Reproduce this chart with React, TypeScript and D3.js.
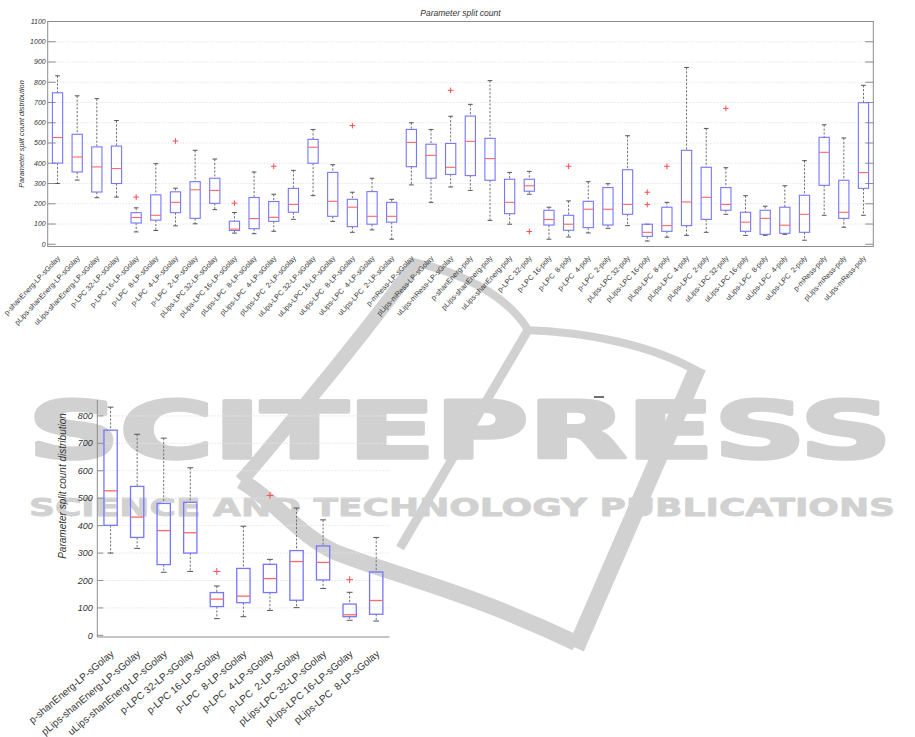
import React from 'react';
import * as d3 from 'd3';

// Configuration names (x categories), in plotting order
const categories = [
  'p-shanEnerg-LP-sGolay', 'pLips-shanEnerg-LP-sGolay', 'uLips-shanEnerg-LP-sGolay',
  'p-LPC 32-LP-sGolay', 'p-LPC 16-LP-sGolay', 'p-LPC  8-LP-sGolay', 'p-LPC  4-LP-sGolay', 'p-LPC  2-LP-sGolay',
  'pLips-LPC 32-LP-sGolay', 'pLips-LPC 16-LP-sGolay', 'pLips-LPC  8-LP-sGolay', 'pLips-LPC  4-LP-sGolay', 'pLips-LPC  2-LP-sGolay',
  'uLips-LPC 32-LP-sGolay', 'uLips-LPC 16-LP-sGolay', 'uLips-LPC  8-LP-sGolay', 'uLips-LPC  4-LP-sGolay', 'uLips-LPC  2-LP-sGolay',
  'p-mRess-LP-sGolay', 'pLips-mRess-LP-sGolay', 'uLips-mRess-LP-sGolay',
  'p-shanEnerg-poly', 'pLips-shanEnerg-poly', 'uLips-shanEnerg-poly',
  'p-LPC 32-poly', 'p-LPC 16-poly', 'p-LPC  8-poly', 'p-LPC  4-poly', 'p-LPC  2-poly',
  'pLips-LPC 32-poly', 'pLips-LPC 16-poly', 'pLips-LPC  8-poly', 'pLips-LPC  4-poly', 'pLips-LPC  2-poly',
  'uLips-LPC 32-poly', 'uLips-LPC 16-poly', 'uLips-LPC  8-poly', 'uLips-LPC  4-poly', 'uLips-LPC  2-poly',
  'p-mRess-poly', 'pLips-mRess-poly', 'uLips-mRess-poly',
];

// Box statistics per configuration
const upperWhisker = [832, 733, 719, 611, 180, 398, 277, 464, 421, 157, 357, 247, 365, 567, 393, 257, 326, 222, 600, 567, 632, 691, 808, 355, 360, 183, 214, 309, 299, 536, 99, 207, 873, 572, 378, 240, 188, 289, 413, 590, 525, 785];
const upperQuartile = [748, 543, 481, 485, 156, 244, 259, 309, 326, 114, 231, 211, 276, 518, 355, 222, 260, 207, 567, 494, 498, 633, 523, 321, 321, 168, 143, 212, 280, 368, 99, 183, 464, 380, 280, 158, 168, 183, 242, 528, 316, 699];
const medians = [527, 431, 382, 374, 132, 143, 207, 269, 266, 75, 127, 133, 197, 479, 212, 183, 138, 138, 503, 439, 380, 508, 423, 207, 289, 122, 99, 173, 173, 197, 59, 92, 209, 232, 197, 109, 128, 94, 148, 454, 158, 354];
const lowerQuartile = [401, 357, 258, 300, 105, 119, 156, 128, 202, 68, 77, 113, 158, 400, 138, 87, 99, 109, 383, 326, 345, 339, 316, 151, 262, 95, 69, 82, 95, 148, 39, 64, 92, 123, 168, 64, 49, 54, 59, 291, 128, 276];
const lowerWhisker = [300, 317, 230, 233, 61, 68, 91, 101, 171, 55, 52, 64, 123, 240, 113, 59, 71, 25, 293, 207, 283, 266, 118, 99, 247, 25, 36, 56, 79, 92, 16, 35, 44, 59, 148, 44, 44, 49, 20, 143, 84, 143];

// Outliers: category index and value
const outlierIndex = [4, 6, 9, 11, 15, 20, 24, 26, 30, 30, 31, 34];
const outlierValue = [233, 510, 203, 385, 586, 760, 63, 385, 257, 196, 385, 671];

// Tick values
const topTicks = d3.range(0, 1101, 100);
const detailTicks = d3.range(0, 801, 100);
const detailCount = 11;

const titleText = 'Parameter split count';
const yLabelText = 'Parameter split count distribution';

const FONT = '"Liberation Sans", Arial, Helvetica, sans-serif';
const BOX_COLOR = '#7676ff';
const MEDIAN_COLOR = '#ff6868';
const WHISKER_COLOR = '#707070';
const CAP_COLOR = '#555';
const AXIS_COLOR = '#8c8c8c';
const GRID_COLOR = '#e6e6e6';
const TEXT_COLOR = '#333';
const MARK_GRAY = '#d1d1d1';

type Stats = { hi: number; q3: number; med: number; q1: number; lo: number };

const stats: Stats[] = categories.map((_, i) => ({
  hi: upperWhisker[i],
  q3: upperQuartile[i],
  med: medians[i],
  q1: lowerQuartile[i],
  lo: lowerWhisker[i],
}));

function Box({ cx, s, y, boxW, capW, sw }: { cx: number; s: Stats; y: d3.ScaleLinear<number, number>; boxW: number; capW: number; sw: number }) {
  const dash = '2.2,1.6';
  return (
    <g>
      {s.hi > s.q3 && (
        <line x1={cx} x2={cx} y1={y(s.hi)} y2={y(s.q3)} stroke={WHISKER_COLOR} strokeWidth={1} strokeDasharray={dash} />
      )}
      {s.lo < s.q1 && (
        <line x1={cx} x2={cx} y1={y(s.q1)} y2={y(s.lo)} stroke={WHISKER_COLOR} strokeWidth={1} strokeDasharray={dash} />
      )}
      <line x1={cx - capW / 2} x2={cx + capW / 2} y1={y(s.hi)} y2={y(s.hi)} stroke={CAP_COLOR} strokeWidth={1} />
      <line x1={cx - capW / 2} x2={cx + capW / 2} y1={y(s.lo)} y2={y(s.lo)} stroke={CAP_COLOR} strokeWidth={1} />
      <rect x={cx - boxW / 2} y={y(s.q3)} width={boxW} height={y(s.q1) - y(s.q3)} fill="none" stroke={BOX_COLOR} strokeWidth={sw} />
      <line x1={cx - boxW / 2} x2={cx + boxW / 2} y1={y(s.med)} y2={y(s.med)} stroke={MEDIAN_COLOR} strokeWidth={sw} />
    </g>
  );
}

function Plus({ x, y, r }: { x: number; y: number; r: number }) {
  return (
    <g stroke="#ff4d4d" strokeWidth={1}>
      <line x1={x - r} x2={x + r} y1={y} y2={y} />
      <line x1={x} x2={x} y1={y - r} y2={y + r} />
    </g>
  );
}

function Watermark() {
  return (
    <g fill="none" stroke={MARK_GRAY}>
      {/* logo strokes */}
      <path d="M418 261 C392 296, 352 348, 304 406 S258 462, 241 481" strokeWidth={14} />
      <path d="M241 481 C275 500, 298 535, 335 552 C390 574, 470 592, 576 643" strokeWidth={16} />
      <path d="M698 367 L576 648" strokeWidth={17} />
      <path d="M413 262 C455 271, 505 292, 528 330" strokeWidth={8} />
      <path d="M525 330 C585 332, 650 344, 699 372" strokeWidth={8} />
      <path d="M528 330 L400 548" strokeWidth={9} />
      {/* wordmark */}
      <text x={28} y={458} fontFamily='"DejaVu Sans", sans-serif' fontWeight="bold" fontSize={78}
        textLength={864} lengthAdjust="spacingAndGlyphs" fill={MARK_GRAY} stroke={MARK_GRAY} strokeWidth={3.5}
        strokeLinejoin="round">SCITEPRESS</text>
      <text x={29} y={515.5} fontFamily='"DejaVu Sans", sans-serif' fontWeight="bold" fontSize={25}
        textLength={866} lengthAdjust="spacingAndGlyphs" fill={MARK_GRAY} stroke={MARK_GRAY} strokeWidth={0.8}
        strokeLinejoin="round">SCIENCE AND TECHNOLOGY PUBLICATIONS</text>
    </g>
  );
}

function OverviewChart() {
  const left = 47.7, right = 873.3, top = 21.5, bottom = 246.5;
  const x = d3.scaleBand<string>().domain(categories.map((c, i) => `${i}`)).range([left, right]);
  const y = d3.scaleLinear().domain([-11, 1100]).range([bottom, top]);
  const bw = x.bandwidth();
  const cx = (i: number) => (x(`${i}`) as number) + bw / 2;
  const tickLen = 8;

  return (
    <g>
      {topTicks.filter((t) => t > 0).map((t) => (
        <line key={`g${t}`} x1={left} x2={right} y1={y(t)} y2={y(t)} stroke={GRID_COLOR} strokeWidth={1} strokeDasharray="1.5,1.5" />
      ))}
      <rect x={left} y={top} width={right - left} height={bottom - top} fill="none" stroke={AXIS_COLOR} strokeWidth={1} />
      {topTicks.map((t) => (
        <g key={`t${t}`}>
          <line x1={left} x2={left + tickLen} y1={y(t)} y2={y(t)} stroke={AXIS_COLOR} strokeWidth={1} />
          <line x1={right - tickLen} x2={right} y1={y(t)} y2={y(t)} stroke={AXIS_COLOR} strokeWidth={1} />
          <text x={left - 2} y={y(t)} dy="0.35em" textAnchor="end" fontSize={7} fontStyle="italic" fill={TEXT_COLOR}>{t}</text>
        </g>
      ))}
      {stats.map((s, i) => (
        <Box key={i} cx={cx(i)} s={s} y={y} boxW={bw * 0.52} capW={bw * 0.24} sw={1.1} />
      ))}
      {outlierIndex.map((idx, k) => (
        <Plus key={k} x={cx(idx)} y={y(outlierValue[k])} r={2.8} />
      ))}
      <g opacity={0.999}>
        {categories.map((c, i) => (
          <text key={c + i} transform={`translate(${cx(i) + 3},${bottom + 12}) rotate(-47)`} textAnchor="end"
            fontSize={7.3} fill={TEXT_COLOR} style={{ whiteSpace: 'pre' }}>{c}</text>
        ))}
      </g>
      <text x={(left + right) / 2} y={16} textAnchor="middle" fontSize={8.5} fontStyle="italic" fill={TEXT_COLOR}>{titleText}</text>
      <text transform={`translate(24,${(top + bottom) / 2}) rotate(-90)`} textAnchor="middle" fontSize={7.4} fontStyle="italic" fill={TEXT_COLOR}>{yLabelText}</text>
    </g>
  );
}

function DetailChart() {
  const left = 97.3, right = 389.5, top = 400, bottom = 637;
  const subset = categories.slice(0, detailCount);
  const x = d3.scaleBand<string>().domain(subset.map((c, i) => `${i}`)).range([left, right]);
  const y = d3.scaleLinear().domain([-6, 858]).range([bottom, top]);
  const bw = x.bandwidth();
  const cx = (i: number) => (x(`${i}`) as number) + bw / 2;

  return (
    <g>
      {detailTicks.filter((t) => t > 0).map((t) => (
        <line key={`g${t}`} x1={left} x2={right} y1={y(t)} y2={y(t)} stroke={GRID_COLOR} strokeWidth={1} strokeDasharray="1.5,1.5" />
      ))}
      <line x1={left} x2={left} y1={top} y2={bottom} stroke={AXIS_COLOR} strokeWidth={1} />
      <line x1={left} x2={right} y1={bottom} y2={bottom} stroke={AXIS_COLOR} strokeWidth={1} />
      {detailTicks.map((t) => (
        <g key={`t${t}`}>
          <line x1={left} x2={left + 6} y1={y(t)} y2={y(t)} stroke={AXIS_COLOR} strokeWidth={1} />
          <text x={left - 4.5} y={y(t)} dy="0.35em" textAnchor="end" fontSize={9} fontStyle="italic" fill={TEXT_COLOR}>{t}</text>
        </g>
      ))}
      {subset.map((_, i) => (
        <Box key={i} cx={cx(i)} s={stats[i]} y={y} boxW={bw * 0.5} capW={bw * 0.22} sw={1.3} />
      ))}
      {outlierIndex.map((idx, k) => (idx < detailCount ? (
        <Plus key={k} x={cx(idx)} y={y(outlierValue[k])} r={3.4} />
      ) : null))}
      <g opacity={0.999}>
        {subset.map((c, i) => (
          <text key={c + i} transform={`translate(${cx(i) + 4},${bottom + 18}) rotate(-40)`} textAnchor="end"
            fontSize={10} fill={TEXT_COLOR} style={{ whiteSpace: 'pre' }}>{c}</text>
        ))}
      </g>
      <text transform={`translate(66,486) rotate(-90)`} textAnchor="middle" fontSize={10} fontStyle="italic" fill={TEXT_COLOR}>{yLabelText}</text>
    </g>
  );
}

export default function App() {
  return (
    <svg width={915} height={737} viewBox="0 0 915 737" fontFamily={FONT}
      style={{ position: 'absolute', left: 0, top: 0, background: '#fff' }}>
      <rect width={915} height={737} fill="#fff" />
      <Watermark />
      <line x1={594} x2={604} y1={397} y2={397} stroke="#111" strokeWidth={1.2} />
      <OverviewChart />
      <DetailChart />
    </svg>
  );
}
